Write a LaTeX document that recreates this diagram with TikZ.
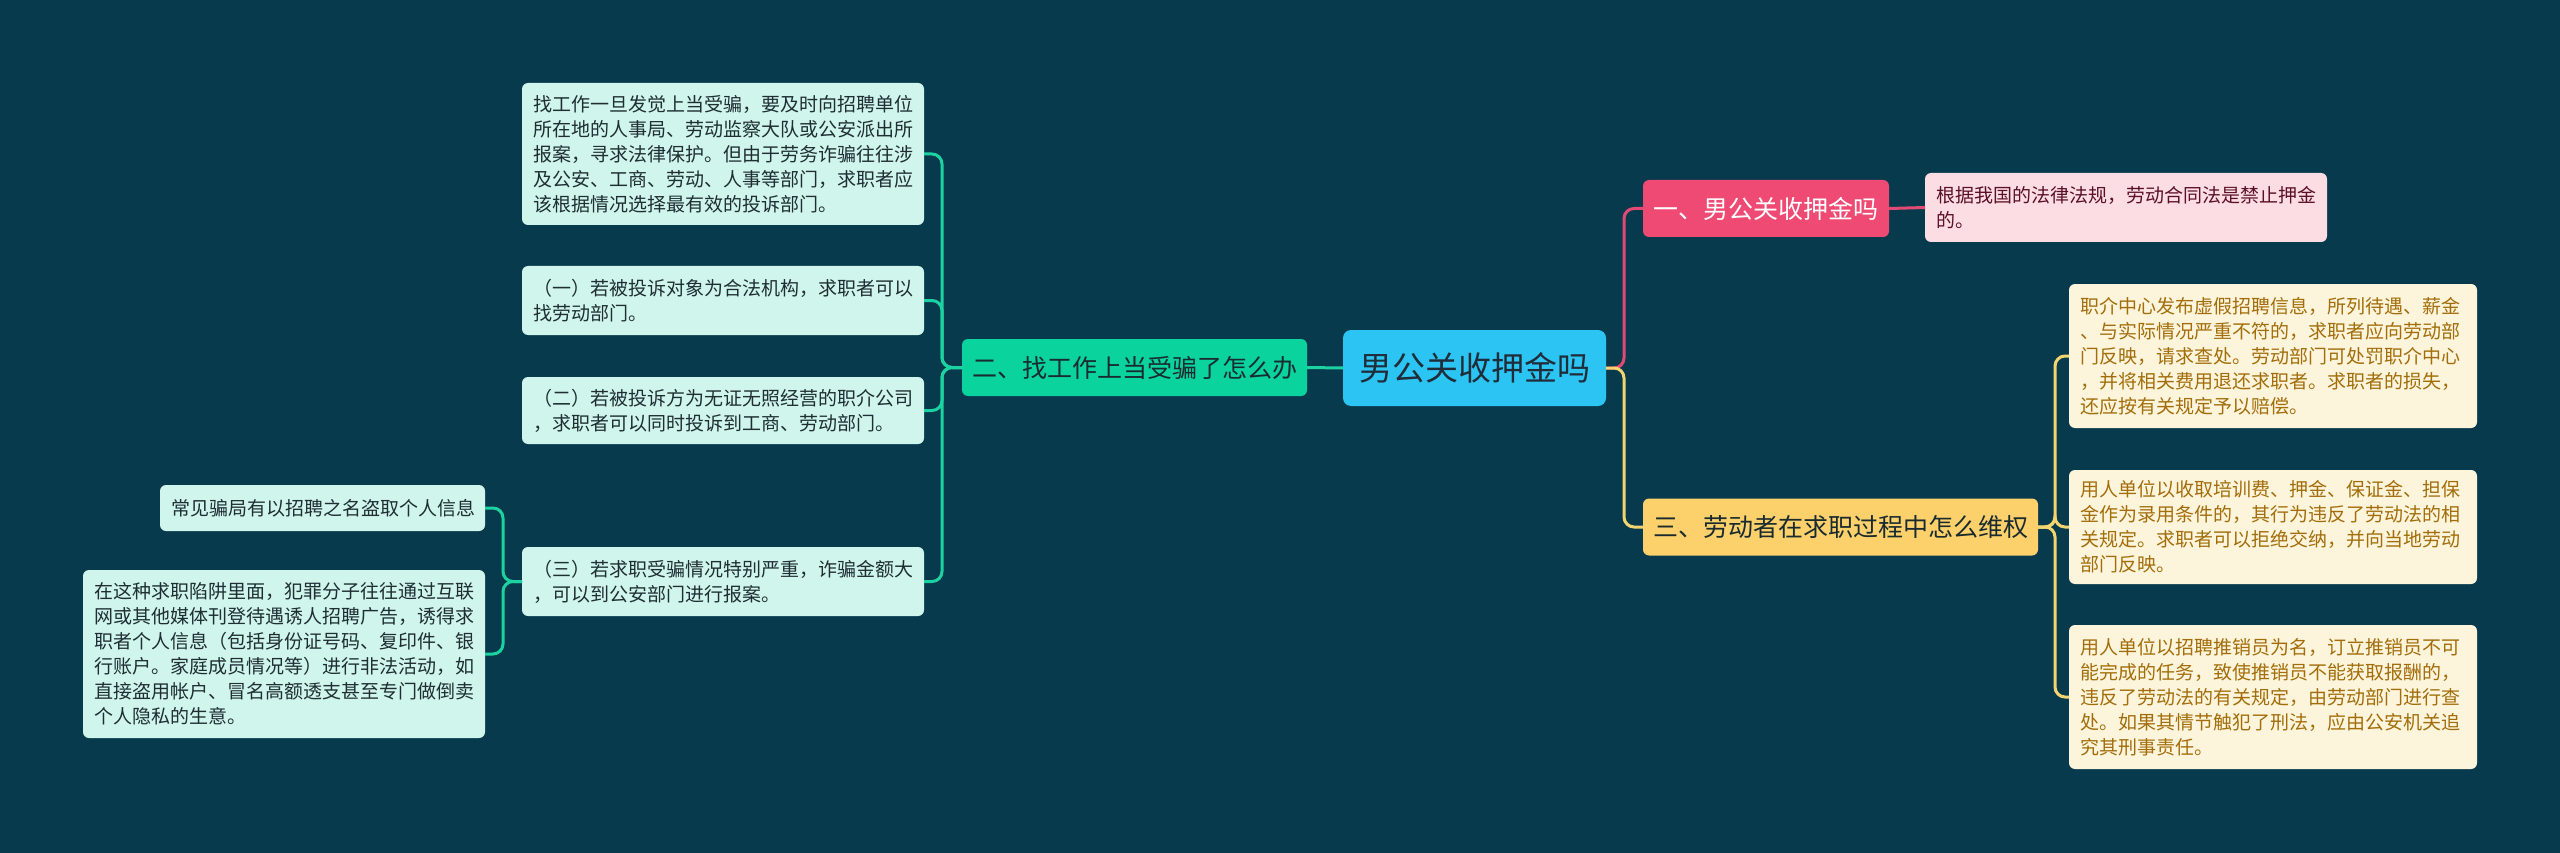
\documentclass[tikz,border=0pt]{standalone}
\usepackage{fontspec}
\setmainfont{Noto Sans CJK SC}
\definecolor{bg}{HTML}{083A4D}
\definecolor{rootblue}{HTML}{2CC4F2}
\definecolor{rootink}{HTML}{1F2D3A}
\definecolor{fraudgreen}{HTML}{0BD39E}
\definecolor{fraudline}{HTML}{1CD2A0}
\definecolor{mint}{HTML}{D0F5EC}
\definecolor{mintink}{HTML}{1E2E33}
\definecolor{depositred}{HTML}{EE4A73}
\definecolor{depositline}{HTML}{E24A74}
\definecolor{blush}{HTML}{FCDDE4}
\definecolor{blushink}{HTML}{5A1026}
\definecolor{rightsyellow}{HTML}{FCD16B}
\definecolor{rightsline}{HTML}{F3D46F}
\definecolor{cream}{HTML}{FDF4DC}
\definecolor{creamink}{HTML}{A26E0A}
\definecolor{darkink}{HTML}{1A2B30}

\begin{document}
\begin{tikzpicture}[x=1pt, y=-1pt,
    box/.style={rounded corners=6pt, inner sep=0pt, outer sep=0pt, align=center},
    rootbox/.style={box, fill=rootblue, text=rootink, rounded corners=8pt,
                    font=\fontsize{33}{38}\selectfont, minimum width=263pt, minimum height=76pt},
    mainbox/.style={box, minimum height=57pt, font=\fontsize{25}{30}\selectfont},
    leafbox/.style={box, align=left, text width=380pt, inner xsep=11pt,
                    font=\fontsize{19}{25}\selectfont},
    link/.style={line width=3pt, rounded corners=10pt},
]
% Background
\fill[bg] (0,0) rectangle (2560,853);

% Root and main topics
\node[rootbox] (root) at (1474.5,368) {男公关收押金吗};
\node[mainbox, fill=fraudgreen, text=darkink, minimum width=345pt] (fraud) at (1134.5,367.5) {二、找工作上当受骗了怎么办};
\node[mainbox, fill=depositred, text=white, minimum width=246pt] (deposit) at (1766,208.5) {一、男公关收押金吗};
\node[mainbox, fill=rightsyellow, text=darkink, minimum width=395pt] (rights) at (1840.5,527) {三、劳动者在求职过程中怎么维权};

% --- Left: what to do when cheated ---
\node[leafbox, fill=mint, text=mintink, minimum height=142pt] (report) at (723,154) {找工作一旦发觉上当受骗，要及时向招聘单位\\
所在地的人事局、劳动监察大队或公安派出所\\
报案，寻求法律保护。但由于劳务诈骗往往涉\\
及公安、工商、劳动、人事等部门，求职者应\\
该根据情况选择最有效的投诉部门。};
\node[leafbox, fill=mint, text=mintink, minimum height=69pt] (legal) at (723,300.5) {（一）若被投诉对象为合法机构，求职者可以\\
找劳动部门。};
\node[leafbox, fill=mint, text=mintink, minimum height=67pt] (unlicensed) at (723,410.5) {（二）若被投诉方为无证无照经营的职介公司\\
，求职者可以同时投诉到工商、劳动部门。};
\node[leafbox, fill=mint, text=mintink, minimum height=69pt] (serious) at (723,581.5) {（三）若求职受骗情况特别严重，诈骗金额大\\
，可以到公安部门进行报案。};
\node[leafbox, fill=mint, text=mintink, text width=303pt, minimum height=46pt] (common) at (322.5,508) {常见骗局有以招聘之名盗取个人信息};
\node[leafbox, fill=mint, text=mintink, minimum height=168pt] (trap) at (284,654) {在这种求职陷阱里面，犯罪分子往往通过互联\\
网或其他媒体刊登待遇诱人招聘广告，诱得求\\
职者个人信息（包括身份证号码、复印件、银\\
行账户。家庭成员情况等）进行非法活动，如\\
直接盗用帐户、冒名高额透支甚至专门做倒卖\\
个人隐私的生意。};

% --- Right: deposit and rights ---
\node[leafbox, fill=blush, text=blushink, minimum height=69pt] (law) at (2126,207.5) {根据我国的法律法规，劳动合同法是禁止押金\\
的。};
\node[leafbox, fill=cream, text=creamink, text width=386pt, minimum height=144pt] (fake) at (2273,356) {职介中心发布虚假招聘信息，所列待遇、薪金\\
、与实际情况严重不符的，求职者应向劳动部\\
门反映，请求查处。劳动部门可处罚职介中心\\
，并将相关费用退还求职者。求职者的损失，\\
还应按有关规定予以赔偿。};
\node[leafbox, fill=cream, text=creamink, text width=386pt, minimum height=114pt] (fees) at (2273,527) {用人单位以收取培训费、押金、保证金、担保\\
金作为录用条件的，其行为违反了劳动法的相\\
关规定。求职者可以拒绝交纳，并向当地劳动\\
部门反映。};
\node[leafbox, fill=cream, text=creamink, text width=386pt, minimum height=144pt] (sales) at (2273,697) {用人单位以招聘推销员为名，订立推销员不可\\
能完成的任务，致使推销员不能获取报酬的，\\
违反了劳动法的有关规定，由劳动部门进行查\\
处。如果其情节触犯了刑法，应由公安机关追\\
究其刑事责任。};

% Connectors
\draw[link, fraudline] (root.west) -- (fraud.east);
\draw[link, depositline] (root.east) -- ++(18,0) |- (deposit.west);
\draw[link, rightsline] (root.east) -- ++(18,0) |- (rights.west);
\draw[link, depositline] (deposit.east) -- (law.west);
\foreach \leaf in {report,legal,unlicensed,serious}
  \draw[link, fraudline] (fraud.west) -- ++(-20,0) |- (\leaf.east);
\foreach \leaf in {common,trap}
  \draw[link, fraudline] (serious.west) -- ++(-19,0) |- (\leaf.east);
\foreach \leaf in {fake,fees,sales}
  \draw[link, rightsline] (rights.east) -- ++(17,0) |- (\leaf.west);
\end{tikzpicture}
\end{document}
